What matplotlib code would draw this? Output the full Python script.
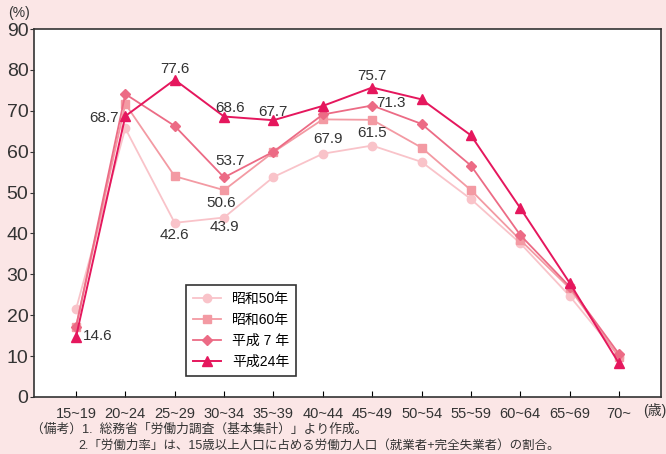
import numpy as np
import matplotlib.pyplot as plt

plt.rcParams['font.family'] = ['Liberation Sans', 'Noto Sans CJK JP', 'DejaVu Sans']

# 年齢階級
age_labels = ['15~19', '20~24', '25~29', '30~34', '35~39', '40~44',
              '45~49', '50~54', '55~59', '60~64', '65~69', '70~']

# 女性の労働力率 (%)
showa50 = [21.4, 65.7, 42.6, 43.9, 53.8, 59.5, 61.5, 57.5, 48.4, 37.6, 24.7, 9.9]
showa60 = [17.2, 71.7, 54.0, 50.6, 59.9, 67.9, 67.8, 61.0, 50.6, 38.4, 26.6, 9.7]
heisei7 = [17.0, 74.1, 66.3, 53.7, 60.0, 69.1, 71.3, 66.8, 56.6, 39.6, 27.0, 10.5]
heisei24 = [14.6, 68.7, 77.6, 68.6, 67.7, 71.2, 75.7, 72.8, 64.0, 46.2, 27.9, 8.2]

series_names = ['昭和50年', '昭和60年', '平成 7 年', '平成24年']

bg = '#fbe6e6'
fig = plt.figure(figsize=(6.66, 4.54), dpi=100, facecolor=bg)
ax = fig.add_axes([0.051, 0.1256, 0.9415, 0.8104])

x = np.arange(len(age_labels))
ax.plot(x, showa50, color='#f9c3c9', marker='o', markersize=6, lw=1.3,
        label=series_names[0])
ax.plot(x, showa60, color='#f39aa3', marker='s', markersize=6, lw=1.3,
        label=series_names[1])
ax.plot(x, heisei7, color='#ec6b85', marker='D', markersize=5, lw=1.3,
        label=series_names[2])
ax.plot(x, heisei24, color='#e5175d', marker='^', markersize=7, lw=1.4,
        label=series_names[3])

# 数値ラベル
def lab(i, vals, dx, dy, ha='center'):
    ax.annotate(f'{vals[i]:.1f}', (i, vals[i]), xytext=(dx, dy),
                textcoords='offset points', ha=ha, va='center',
                fontsize=11, color='#333333')

lab(0, heisei24, 5, 1, ha='left')
lab(1, heisei24, -5, -1, ha='right')
lab(2, heisei24, 0, 8)
lab(3, heisei24, 4, 6)
lab(4, heisei24, 0, 6)
lab(6, heisei24, 0, 8)
lab(3, heisei7, 4, 12)
lab(6, heisei7, 3, 2, ha='left')
lab(3, showa60, -2, -9)
lab(5, showa60, 4, -14)
lab(2, showa50, 0, -9)
lab(3, showa50, 0, -7)
lab(6, showa50, 0, 9)

ax.set_xlim(-0.85, 11.85)
ax.set_ylim(0, 90)
ax.set_xticks(x)
ax.set_xticklabels(age_labels, fontsize=10.5, color='#333333')
ax.set_yticks(np.arange(0, 91, 10))
ax.tick_params(axis='y', labelsize=14, direction='out', length=3, pad=1,
               colors='#333333')
ax.tick_params(axis='x', direction='in', length=4, pad=7)
for s in ax.spines.values():
    s.set_color('#333333')
    s.set_linewidth(1.2)

leg = ax.legend(loc='lower left', bbox_to_anchor=(0.232, 0.038), fontsize=10,
                fancybox=False, edgecolor='#333333', framealpha=1,
                handlelength=2.0, borderpad=0.5, labelspacing=0.5)
leg.get_frame().set_linewidth(1.2)

fig.text(0.012, 0.972, '(%)', fontsize=10, color='#333333', va='center')
fig.text(0.965, 0.096, '(歳)', fontsize=10, color='#333333', va='center')
fig.text(0.047, 0.053, '（備考）1.  総務省「労働力調査（基本集計）」より作成。',
         fontsize=9.2, color='#333333', va='center')
fig.text(0.117, 0.018,
         '2.「労働力率」は、15歳以上人口に占める労働力人口（就業者+完全失業者）の割合。',
         fontsize=9, color='#333333', va='center')

fig.savefig('out.png', dpi=100, facecolor=bg)
